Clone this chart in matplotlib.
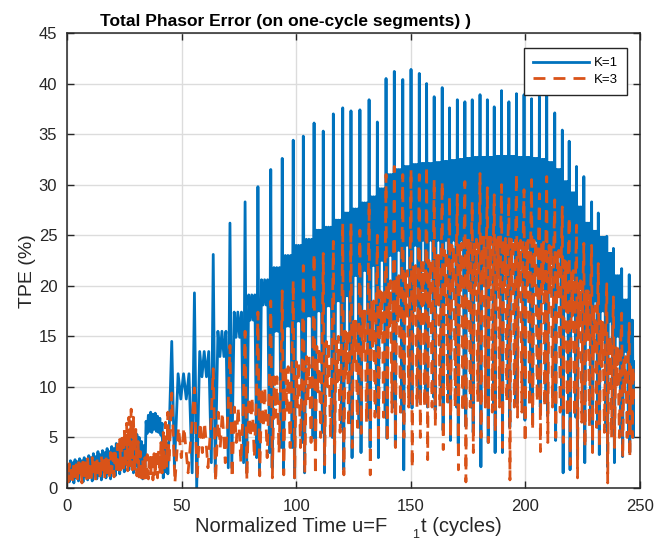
import numpy as np
import matplotlib
matplotlib.use('Agg')
import matplotlib.pyplot as plt

plt.rcParams['font.family'] = ['Liberation Sans', 'DejaVu Sans']

# ---------------- data ----------------
# first 45 cycles, sampled every half cycle
early_u = [0.5 * k for k in range(90)]
blue_early = [1.0, 2.3, 0.6, 2.7, 1.2, 2.5, 0.5, 2.8, 1.0, 2.6,
              0.7, 2.9, 1.4, 2.7, 0.6, 3.0, 1.1, 2.8, 0.8, 3.2,
              1.3, 3.0, 0.7, 3.4, 1.5, 3.1, 0.9, 3.6, 1.2, 3.3,
              0.8, 3.7, 1.6, 3.5, 1.0, 3.9, 1.4, 3.6, 0.9, 4.1,
              1.7, 3.9, 1.2, 4.4, 2.0, 4.2, 1.4, 4.8, 2.2, 4.6,
              1.6, 5.2, 2.4, 5.0, 1.8, 5.6, 2.6, 5.4, 1.5, 5.7,
              2.2, 5.3, 1.2, 5.0, 1.8, 4.6, 0.9, 4.2, 1.2, 6.6,
              5.4, 7.2, 5.6, 7.5, 5.5, 7.3, 5.8, 7.4, 5.6, 7.1,
              5.5, 6.9, 5.2, 6.4, 1.0, 3.8, 1.6, 4.4, 1.4, 5.0]
orange_early = [1.6, 0.6, 2.4, 0.9, 2.2, 0.5, 2.6, 1.1, 2.3, 0.7,
                2.7, 1.0, 2.4, 0.5, 2.8, 1.2, 2.5, 0.8, 2.9, 1.0,
                2.6, 0.6, 3.0, 1.3, 2.7, 0.7, 3.1, 1.1, 2.8, 0.8,
                3.2, 1.4, 2.9, 0.9, 3.3, 1.2, 3.1, 1.0, 3.5, 1.5,
                3.4, 1.1, 3.9, 1.6, 4.3, 1.3, 4.8, 1.8, 5.3, 1.5,
                5.8, 2.0, 6.4, 1.7, 7.0, 2.2, 7.8, 1.8, 7.0, 1.5,
                5.8, 1.2, 4.6, 0.9, 3.6, 0.6, 2.8, 0.8, 3.0, 1.0,
                3.3, 0.9, 3.5, 1.2, 3.2, 0.8, 3.4, 1.1, 3.6, 1.0,
                3.8, 1.3, 4.5, 1.5, 5.5, 1.8, 6.5, 2.0, 7.5, 2.5]

# from cycle ~45 on: one entry per oscillation period (tall spike positions)
spike_u = [45.7, 55.6, 63.8, 71.1, 77.7, 83.3, 88.9, 93.9, 98.7, 103.1,
           107.8, 111.8, 116.2, 120.3, 123.9, 127.8, 131.8, 135.4, 139.2, 142.8,
           146.5, 150.1, 153.7, 156.9, 160.2, 163.7, 166.9, 170.3, 173.6, 176.8,
           180.2, 183.4, 186.4, 189.6, 192.8, 196.1, 199.4, 202.7, 206.1, 209.3,
           212.8, 216.1, 219.1, 222.3, 225.5, 228.9, 231.8, 235.5, 238.4, 242.0, 245.3]

blue_peak = [14.5, 19.3, 23.1, 26.2, 28.3, 29.8, 31.5, 32.6, 34.4, 34.8,
             36.1, 35.3, 37.0, 37.6, 37.3, 37.4, 38.4, 36.2, 40.5, 41.2,
             40.4, 41.4, 41.0, 40.0, 38.7, 39.6, 37.6, 38.4, 38.2, 38.4,
             38.9, 38.4, 37.7, 39.3, 38.2, 39.0, 38.9, 38.5, 38.7, 38.9,
             37.1, 35.4, 34.3, 31.8, 30.8, 28.3, 27.2, 24.9, 23.7, 21.7, 21.1]
blue_lowA = [2.0, 0.0, 1.5, 2.0, 1.5, 1.5, 2.0, 1.5, 1.0, 1.5,
             4.6, 1.5, 1.0, 1.8, 3.0, 3.5, 4.0, 3.0, 4.9, 4.1,
             1.8, 7.9, 8.4, 8.0, 7.7, 5.7, 4.7, 4.4, 6.1, 5.5,
             2.1, 4.5, 3.5, 3.5, 6.0, 8.4, 6.7, 6.7, 8.0, 7.1,
             4.7, 1.5, 1.8, 3.0, 2.5, 3.6, 3.3, 2.1, 2.5, 3.1, 3.5]
blue_top = [11.3, 13.5, 15.5, 17.4, 19.1, 20.6, 21.8, 23.0, 24.0, 24.6,
            25.5, 25.8, 26.5, 27.2, 27.6, 28.2, 28.8, 29.6, 31.0, 31.5,
            31.8, 32.0, 32.1, 32.1, 32.2, 32.3, 32.4, 32.5, 32.6, 32.7,
            32.7, 32.7, 32.8, 32.8, 32.8, 32.7, 32.7, 32.6, 32.5, 32.2,
            31.5, 30.3, 29.2, 27.8, 26.2, 25.4, 24.8, 23.2, 21.0, 18.6, 16.6]
blue_mid = [8.8, 11.0, 13.0, 14.9, 16.6, 18.1, 15.5, 16.0, 16.5, 17.0,
            17.5, 18.0, 18.5, 19.0, 21.0, 21.5, 22.0, 22.5, 23.0, 23.5,
            24.0, 24.0, 24.5, 24.5, 24.5, 24.5, 24.5, 24.5, 24.5, 24.5,
            24.5, 24.5, 24.5, 24.5, 24.5, 24.5, 24.5, 24.5, 24.0, 24.0,
            23.5, 22.5, 21.5, 20.5, 19.5, 18.5, 17.5, 16.5, 15.0, 13.5, 12.5]
blue_lowB = [1.5, 2.5, 2.0, 2.5, 3.0, 3.5, 4.0, 4.0, 4.5, 5.0,
             5.5, 5.0, 6.0, 6.5, 6.0, 7.0, 7.5, 7.0, 8.0, 7.5,
             8.5, 9.0, 8.5, 9.0, 9.0, 8.5, 8.0, 8.5, 8.0, 9.0,
             8.5, 8.0, 8.5, 9.0, 8.5, 9.5, 9.0, 9.5, 9.0, 8.5,
             8.0, 7.5, 7.0, 7.0, 6.5, 6.0, 6.0, 5.5, 5.5, 5.0, 5.0]

orange_peak = [9.4, 9.9, 11.8, 14.1, 15.5, 17.4, 18.5, 19.5, 20.5, 22.0,
               23.2, 23.2, 24.4, 26.2, 26.2, 25.5, 28.3, 25.0, 31.0, 31.8,
               31.0, 31.5, 31.0, 31.8, 30.5, 30.3, 28.8, 29.0, 30.3, 28.3,
               31.1, 29.7, 29.0, 30.0, 28.8, 31.1, 29.5, 30.5, 29.1, 30.8,
               28.5, 27.8, 26.8, 26.0, 24.2, 24.0, 22.2, 20.2, 18.9, 17.3, 16.3]
orange_lowA = [0.5, 0.8, 0.6, 1.0, 0.8, 1.2, 1.0, 1.3, 1.0, 1.5,
               1.3, 2.3, 3.5, 1.3, 4.0, 5.4, 1.3, 4.5, 4.5, 4.0,
               5.0, 2.0, 5.0, 2.8, 6.1, 3.8, 5.0, 1.8, 0.6, 3.5,
               5.0, 4.5, 5.5, 4.0, 0.8, 7.0, 4.5, 5.7, 3.6, 4.5,
               5.0, 4.5, 2.3, 1.0, 4.0, 3.5, 4.0, 0.5, 4.0, 3.0, 3.0]
orange_band = [6.0, 6.5, 7.5, 8.0, 9.0, 10.0, 11.0, 12.0, 12.5, 13.0,
               14.0, 14.5, 15.0, 15.5, 16.5, 17.5, 18.5, 19.5, 20.5, 21.0,
               21.5, 22.0, 22.3, 22.5, 23.0, 23.5, 24.0, 24.2, 24.5, 24.6,
               24.8, 24.8, 24.8, 24.7, 24.6, 24.5, 24.5, 24.5, 24.3, 24.0,
               23.5, 22.5, 21.5, 20.5, 19.5, 18.0, 16.5, 15.0, 14.0, 13.0, 12.0]
orange_mid = [3.0, 3.5, 4.0, 4.5, 5.0, 6.0, 7.0, 7.5, 8.0, 8.5,
              9.5, 10.0, 10.5, 11.0, 12.0, 13.0, 14.0, 15.0, 16.0, 16.5,
              17.0, 17.5, 18.0, 18.0, 18.5, 19.0, 19.5, 19.5, 20.0, 20.0,
              20.0, 20.0, 20.0, 20.0, 20.0, 20.0, 20.0, 20.0, 19.5, 19.5,
              19.0, 18.0, 17.0, 16.0, 15.0, 13.5, 12.0, 11.0, 10.0, 9.5, 8.5]
orange_lowB = [1.5, 2.0, 2.5, 2.5, 3.0, 3.0, 3.5, 4.0, 4.0, 4.5,
               5.0, 5.0, 5.5, 6.0, 6.0, 6.5, 7.0, 7.0, 7.5, 7.5,
               8.0, 8.0, 8.0, 8.0, 8.0, 8.5, 8.0, 7.5, 8.0, 8.5,
               8.0, 7.5, 8.0, 8.5, 8.0, 7.5, 8.0, 8.5, 8.0, 8.0,
               7.5, 7.0, 7.0, 6.5, 6.0, 6.0, 5.5, 5.0, 5.0, 5.0, 5.0]

end_u = 247.2
blue_end = 12.5
orange_end = 8.8

x_ticks = [0, 50, 100, 150, 200, 250]
y_ticks = [0, 5, 10, 15, 20, 25, 30, 35, 40, 45]


def build(early, rows, fracs, end_v):
    xs = list(early_u)
    ys = list(early)
    for i, s in enumerate(spike_u):
        nxt = spike_u[i + 1] if i + 1 < len(spike_u) else end_u
        P = nxt - s
        for f, row in zip(fracs, rows):
            xs.append(s + f * P)
            ys.append(row[i])
    xs.append(end_u)
    ys.append(end_v)
    return np.array(xs), np.array(ys)


bx, by = build(blue_early,
               [blue_peak, blue_lowA, blue_top, blue_mid, blue_top, blue_mid, blue_top, blue_lowB],
               [0.0, 0.12, 0.28, 0.40, 0.52, 0.64, 0.76, 0.90], blue_end)
ox, oy = build(orange_early,
               [orange_peak, orange_lowA, orange_band, orange_mid, orange_band, orange_lowB, orange_band],
               [0.0, 0.14, 0.30, 0.42, 0.54, 0.72, 0.88], orange_end)

# ---------------- figure ----------------
W, H = 669, 541
fig = plt.figure(figsize=(W / 100, H / 100), dpi=100)
ax = fig.add_axes([67 / W, 53 / H, 573 / W, 455 / H])

dark = '#262626'
ax.plot(bx, by, color='#0072BD', lw=2.0, label='K=1')
ax.plot(ox, oy, color='#D95319', lw=2.0, linestyle=(0, (4.3, 2.9)), label='K=3')

ax.set_xlim(0, 250)
ax.set_ylim(0, 45)
ax.set_xticks(x_ticks)
ax.set_yticks(y_ticks)
ax.grid(True, color='#dcdcdc', lw=1.0)
ax.set_axisbelow(True)
ax.tick_params(direction='in', length=5, width=1.0, colors=dark, labelsize=12,
               top=True, right=True, labelcolor=dark)
ax.tick_params(axis='x', pad=8)
ax.tick_params(axis='y', pad=7)
for sp in ax.spines.values():
    sp.set_color(dark)
    sp.set_linewidth(1.1)

# y label
fig.text(27 / W, 1 - 271 / H, 'TPE (%)', rotation=90, ha='center', va='center',
         fontsize=14, color=dark)

# x label with detached subscript as in the reference
fig.text(387 / W, 1 - 532 / H, 'Normalized Time u=F', ha='right', va='baseline',
         fontsize=14.5, color=dark)
fig.text(416 / W, 1 - 538 / H, '1', ha='center', va='baseline', fontsize=9, color=dark)
fig.text(421 / W, 1 - 532 / H, 't (cycles)', ha='left', va='baseline',
         fontsize=14.5, color=dark)

fig.text(100 / W, 1 - 26 / H, 'Total Phasor Error (on one-cycle segments) )',
         ha='left', va='baseline', fontsize=12.5, fontweight='bold', color='black')

leg = ax.legend(loc='upper right', bbox_to_anchor=(627 / W, 1 - 48 / H),
                bbox_transform=fig.transFigure, fontsize=9.5, frameon=True,
                fancybox=False, framealpha=1, edgecolor=dark, handlelength=4.25,
                borderpad=0.7, labelspacing=0.3, handletextpad=0.35, borderaxespad=0)
leg.get_frame().set_linewidth(1.0)

fig.savefig('out.png', dpi=100)
